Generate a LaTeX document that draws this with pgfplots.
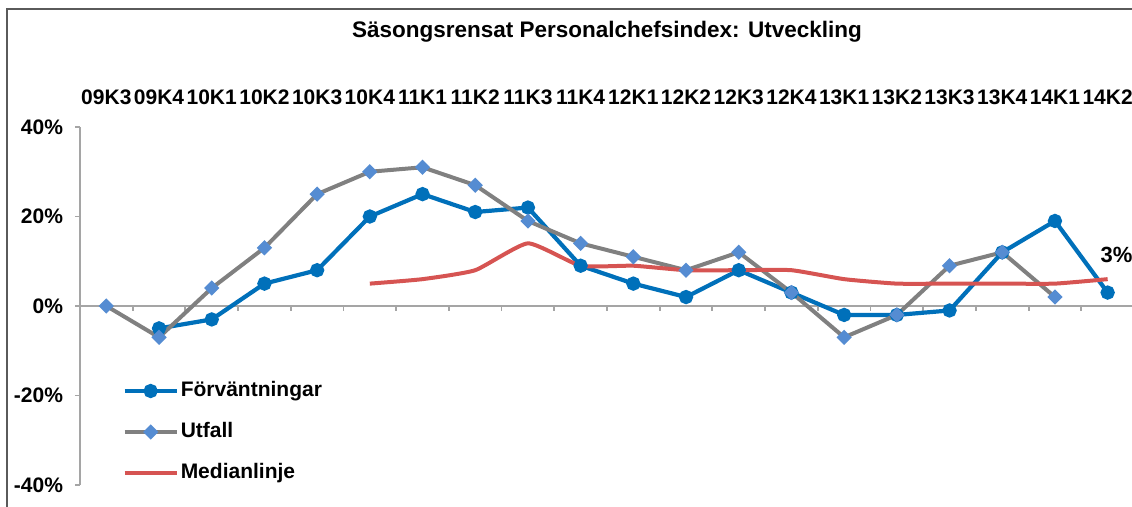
\documentclass[border=0pt]{standalone}
\usepackage{pgfplots}
\pgfplotsset{compat=1.18}
\usepackage{fontspec}
\setmainfont{Liberation Sans}
\definecolor{cBlue}{RGB}{0,112,186}
\definecolor{cGray}{RGB}{128,128,128}
\definecolor{cDia}{RGB}{85,140,210}
\definecolor{cRed}{RGB}{214,84,82}
\definecolor{cAxis}{RGB}{165,165,165}
\definecolor{cFrame}{RGB}{90,90,90}
\begin{document}
\begin{tikzpicture}
\useasboundingbox (0,0) rectangle (566pt,253.5pt);
\draw[cFrame, line width=1pt] (3.5pt,-2pt) -- (3.5pt,249pt) -- (572pt,249pt);
\node[font=\bfseries\fontsize{11.25}{13}\selectfont] at (303.5pt,237.5pt) {Säsongsrensat Personalchefsindex: Utveckling};
\begin{axis}[
  at={(40pt,11pt)}, anchor=south west, scale only axis,
  width=527pt, height=179pt,
  xmin=-0.5, xmax=19.5, ymin=-40, ymax=40,
  axis x line*=top, x axis line style={draw=none},
  axis y line*=left, y axis line style={cAxis, line width=0.9pt},
  xtick={0,...,19},
  xticklabels={09K3,09K4,10K1,10K2,10K3,10K4,11K1,11K2,11K3,11K4,12K1,12K2,12K3,12K4,13K1,13K2,13K3,13K4,14K1,14K2},
  x tick style={draw=none},
  xticklabel style={font=\bfseries\fontsize{10.5}{12}\selectfont, yshift=5pt},
  ytick={-40,-20,0,20,40},
  yticklabels={-40\%,-20\%,0\%,20\%,40\%},
  yticklabel style={font=\bfseries\fontsize{10.5}{12}\selectfont, xshift=-2.5pt},
  tick align=outside, major tick length=2.5pt,
  y tick style={cAxis, line width=0.9pt},
  clip=false,
  legend cell align=left,
  legend image code/.code={\draw[mark repeat=2,mark phase=2,#1] plot coordinates {(0pt,0pt) (13pt,0pt) (26pt,0pt)};},
  legend style={draw=none, fill=none, at={(axis description cs:0.04,0.148)}, anchor=west,
    font=\bfseries\fontsize{10.5}{12}\selectfont, row sep=9pt, inner sep=0pt,
    nodes={text height=7.5pt, text depth=2pt, inner sep=1pt}},
]
\draw[cAxis, line width=0.9pt] (axis cs:-0.5,0) -- (axis cs:19.5,0);
\pgfplotsinvokeforeach{0.5,1.5,...,18.5}{\draw[cAxis, line width=0.9pt] (axis cs:#1,0) -- ++(0pt,-2.5pt);}
\addplot[cBlue, line width=2.1pt, mark=*, mark size=2.5pt, mark options={fill=cBlue, draw=cBlue}] coordinates {
 (1,-5) (2,-3) (3,5) (4,8) (5,20) (6,25) (7,21) (8,22) (9,9) (10,5) (11,2) (12,8) (13,3) (14,-2) (15,-2) (16,-1) (17,12) (18,19) (19,3)};
\addlegendentry{Förväntningar}
\addplot[cGray, line width=2pt, mark=square*, mark size=1.7pt, mark options={fill=cDia, draw=cDia, rotate=45}] coordinates {
 (0,0) (1,-7) (2,4) (3,13) (4,25) (5,30) (6,31) (7,27) (8,19) (9,14) (10,11) (11,8) (12,12) (13,3) (14,-7) (15,-2) (16,9) (17,12) (18,2)};
\addlegendentry{Utfall}
\addplot[cRed, line width=2pt, smooth, tension=0.3] coordinates {
 (5,5) (6,6) (7,8) (8,14) (9,9) (10,9) (11,8) (12,8) (13,8) (14,6) (15,5) (16,5) (17,5) (18,5) (19,6)};
\addlegendentry{Medianlinje}
\node[anchor=west, font=\bfseries\fontsize{11}{13}\selectfont, inner sep=0pt] at (axis cs:18.86,11.4) {3\%};
\end{axis}
\end{tikzpicture}
\end{document}
